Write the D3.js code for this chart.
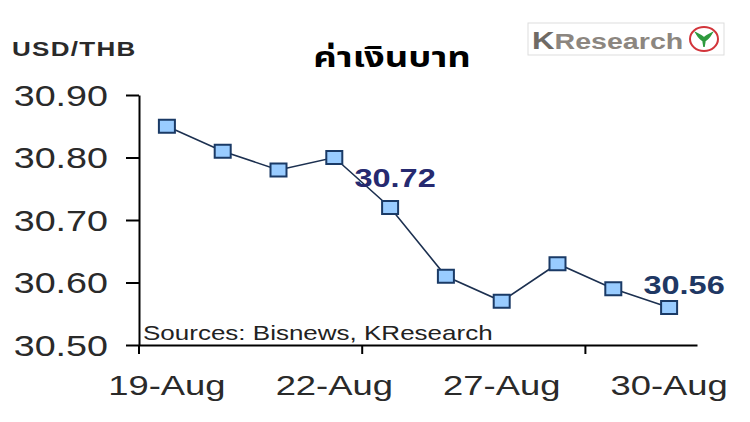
<!DOCTYPE html>
<html><head><meta charset="utf-8">
<script src="https://cdn.jsdelivr.net/npm/d3@7"></script>
<style>body{margin:0;background:#fff}</style>
</head><body><svg id="c" width="750" height="422"></svg>
<script>
const categories = ["19-Aug","20-Aug","21-Aug","22-Aug","23-Aug","26-Aug","27-Aug","28-Aug","29-Aug","30-Aug"];
const values = [30.85,30.81,30.78,30.80,30.72,30.61,30.57,30.63,30.59,30.56];
const yTicks = [30.5,30.6,30.7,30.8,30.9];
const xLabelCats = ["19-Aug","22-Aug","27-Aug","30-Aug"];
const xTickCats = ["19-Aug","23-Aug","29-Aug"];
const annotCats = ["23-Aug","30-Aug"];
const annotTexts = ["30.72","30.56"];
const title = "ค่าเงินบาท";
const unitLabel = "USD/THB";
const sourceText = "Sources: Bisnews, KResearch";

const SX = 1.3; // horizontal stretch of the original image
const svg = d3.select("#c");
const font = "'Liberation Sans', Arial, sans-serif";

const x = d3.scaleBand().domain(categories).range([139, 697]).paddingInner(0).paddingOuter(0);
const y = d3.scaleLinear().domain([30.5, 30.9]).range([345, 95]);

function stext(px, py, txt, opts) {
  const g = svg.append("g").attr("transform", `translate(${px},${py}) scale(${SX},1)`);
  const t = g.append("text").text(txt)
    .attr("font-family", opts.family || font)
    .attr("font-size", opts.size)
    .attr("font-weight", opts.weight || "normal")
    .attr("fill", opts.fill || "#222")
    .attr("text-anchor", opts.anchor || "start");
  if (opts.ls) t.attr("letter-spacing", opts.ls);
  return t;
}

// Y axis
const yAxis = svg.append("g").attr("transform", "translate(139,0)")
  .call(d3.axisLeft(y).tickValues(yTicks).tickSize(13).tickFormat(d3.format(".2f")).tickSizeOuter(0));
yAxis.select(".domain").attr("stroke", "#000").attr("stroke-width", 2);
yAxis.selectAll(".tick line").attr("stroke", "#000").attr("stroke-width", 2);
yAxis.selectAll(".tick text")
  .attr("font-family", font).attr("font-size", 29).attr("fill", "#2a2a2a")
  .attr("x", -31 / SX).attr("dy", "0.36em")
  .attr("transform", `scale(${SX},1)`);

// X axis (labels)
const xAxis = svg.append("g").attr("transform", "translate(0,345)")
  .call(d3.axisBottom(x).tickValues(xLabelCats).tickSize(0).tickSizeOuter(0));
xAxis.select(".domain").attr("stroke", "#000").attr("stroke-width", 2);
xAxis.selectAll(".tick text")
  .attr("font-family", font).attr("font-size", 28).attr("fill", "#2a2a2a")
  .attr("y", 50).attr("dy", 0)
  .attr("transform", `scale(${SX},1)`)
  .each(function(){ const g = d3.select(this.parentNode); const tr = g.attr("transform"); const m = /translate\(([-\d.]+)/.exec(tr); const cx = +m[1]; g.attr("transform", `translate(${cx},0)`); d3.select(this).attr("x", 0); });
// boundary tick marks
svg.append("g").selectAll("line").data(xTickCats).join("line")
  .attr("x1", d => x(d)).attr("x2", d => x(d))
  .attr("y1", 345).attr("y2", 354)
  .attr("stroke", "#000").attr("stroke-width", 2);

// Line
const pts = categories.map((c, i) => [x(c) + x.bandwidth() / 2, y(values[i])]);
svg.append("path").datum(pts)
  .attr("d", d3.line())
  .attr("fill", "none").attr("stroke", "#1c3050").attr("stroke-width", 1.6);

// Markers
svg.append("g").selectAll("rect").data(categories).join("rect")
  .attr("x", d => x(d) + x.bandwidth() / 2 - 8)
  .attr("y", (d, i) => y(values[i]) - 6.5)
  .attr("width", 16).attr("height", 13)
  .attr("fill", "#99ccff").attr("stroke", "#1a3a66").attr("stroke-width", 2);

// Annotations
const annotOffsets = [[5, -21], [15, -14]];
const annotColors = ["#262a70", "#1f3864"];
annotCats.forEach((c, k) => {
  const i = categories.indexOf(c);
  const px = x(c) + x.bandwidth() / 2 + annotOffsets[k][0];
  const py = y(values[i]) + annotOffsets[k][1];
  stext(px, py, annotTexts[k], {size: 25, weight: "bold", fill: annotColors[k], anchor: "middle"});
});

// Source note
stext(143, 340, sourceText, {size: 20, fill: "#222"});

// Unit label
stext(12, 56, unitLabel, {size: 20, weight: "bold", fill: "#2a2a2a", ls: 1});

// Title
stext(392, 67, title, {size: 28, weight: "bold", fill: "#000", anchor: "middle", family: "'Noto Sans Thai','Noto Sans','DejaVu Sans',sans-serif"});

// KResearch logo
svg.append("rect").attr("x", 528).attr("y", 23).attr("width", 196).attr("height", 32)
  .attr("fill", "#fff").attr("stroke", "#ddd").attr("stroke-width", 1);
const kt = stext(532, 49, "", {size: 22, weight: "bold", fill: "#8c8680"});
kt.append("tspan").text("K").attr("fill", "#6f6a64").attr("font-size", 24);
kt.append("tspan").text("Research");
svg.append("ellipse").attr("cx", 704).attr("cy", 39).attr("rx", 14).attr("ry", 12)
  .attr("fill", "#fff").attr("stroke", "#d2343a").attr("stroke-width", 2);
svg.append("path").attr("d", "M696,33 Q700,40 704,41 Q708,40 712,33 Q706,36 704,38 Q702,36 696,33 Z M703,41 L704,47 L705,41 Z")
  .attr("fill", "#2e9a3e").attr("stroke", "#2e9a3e").attr("stroke-width", 1.5);
</script></body></html>
